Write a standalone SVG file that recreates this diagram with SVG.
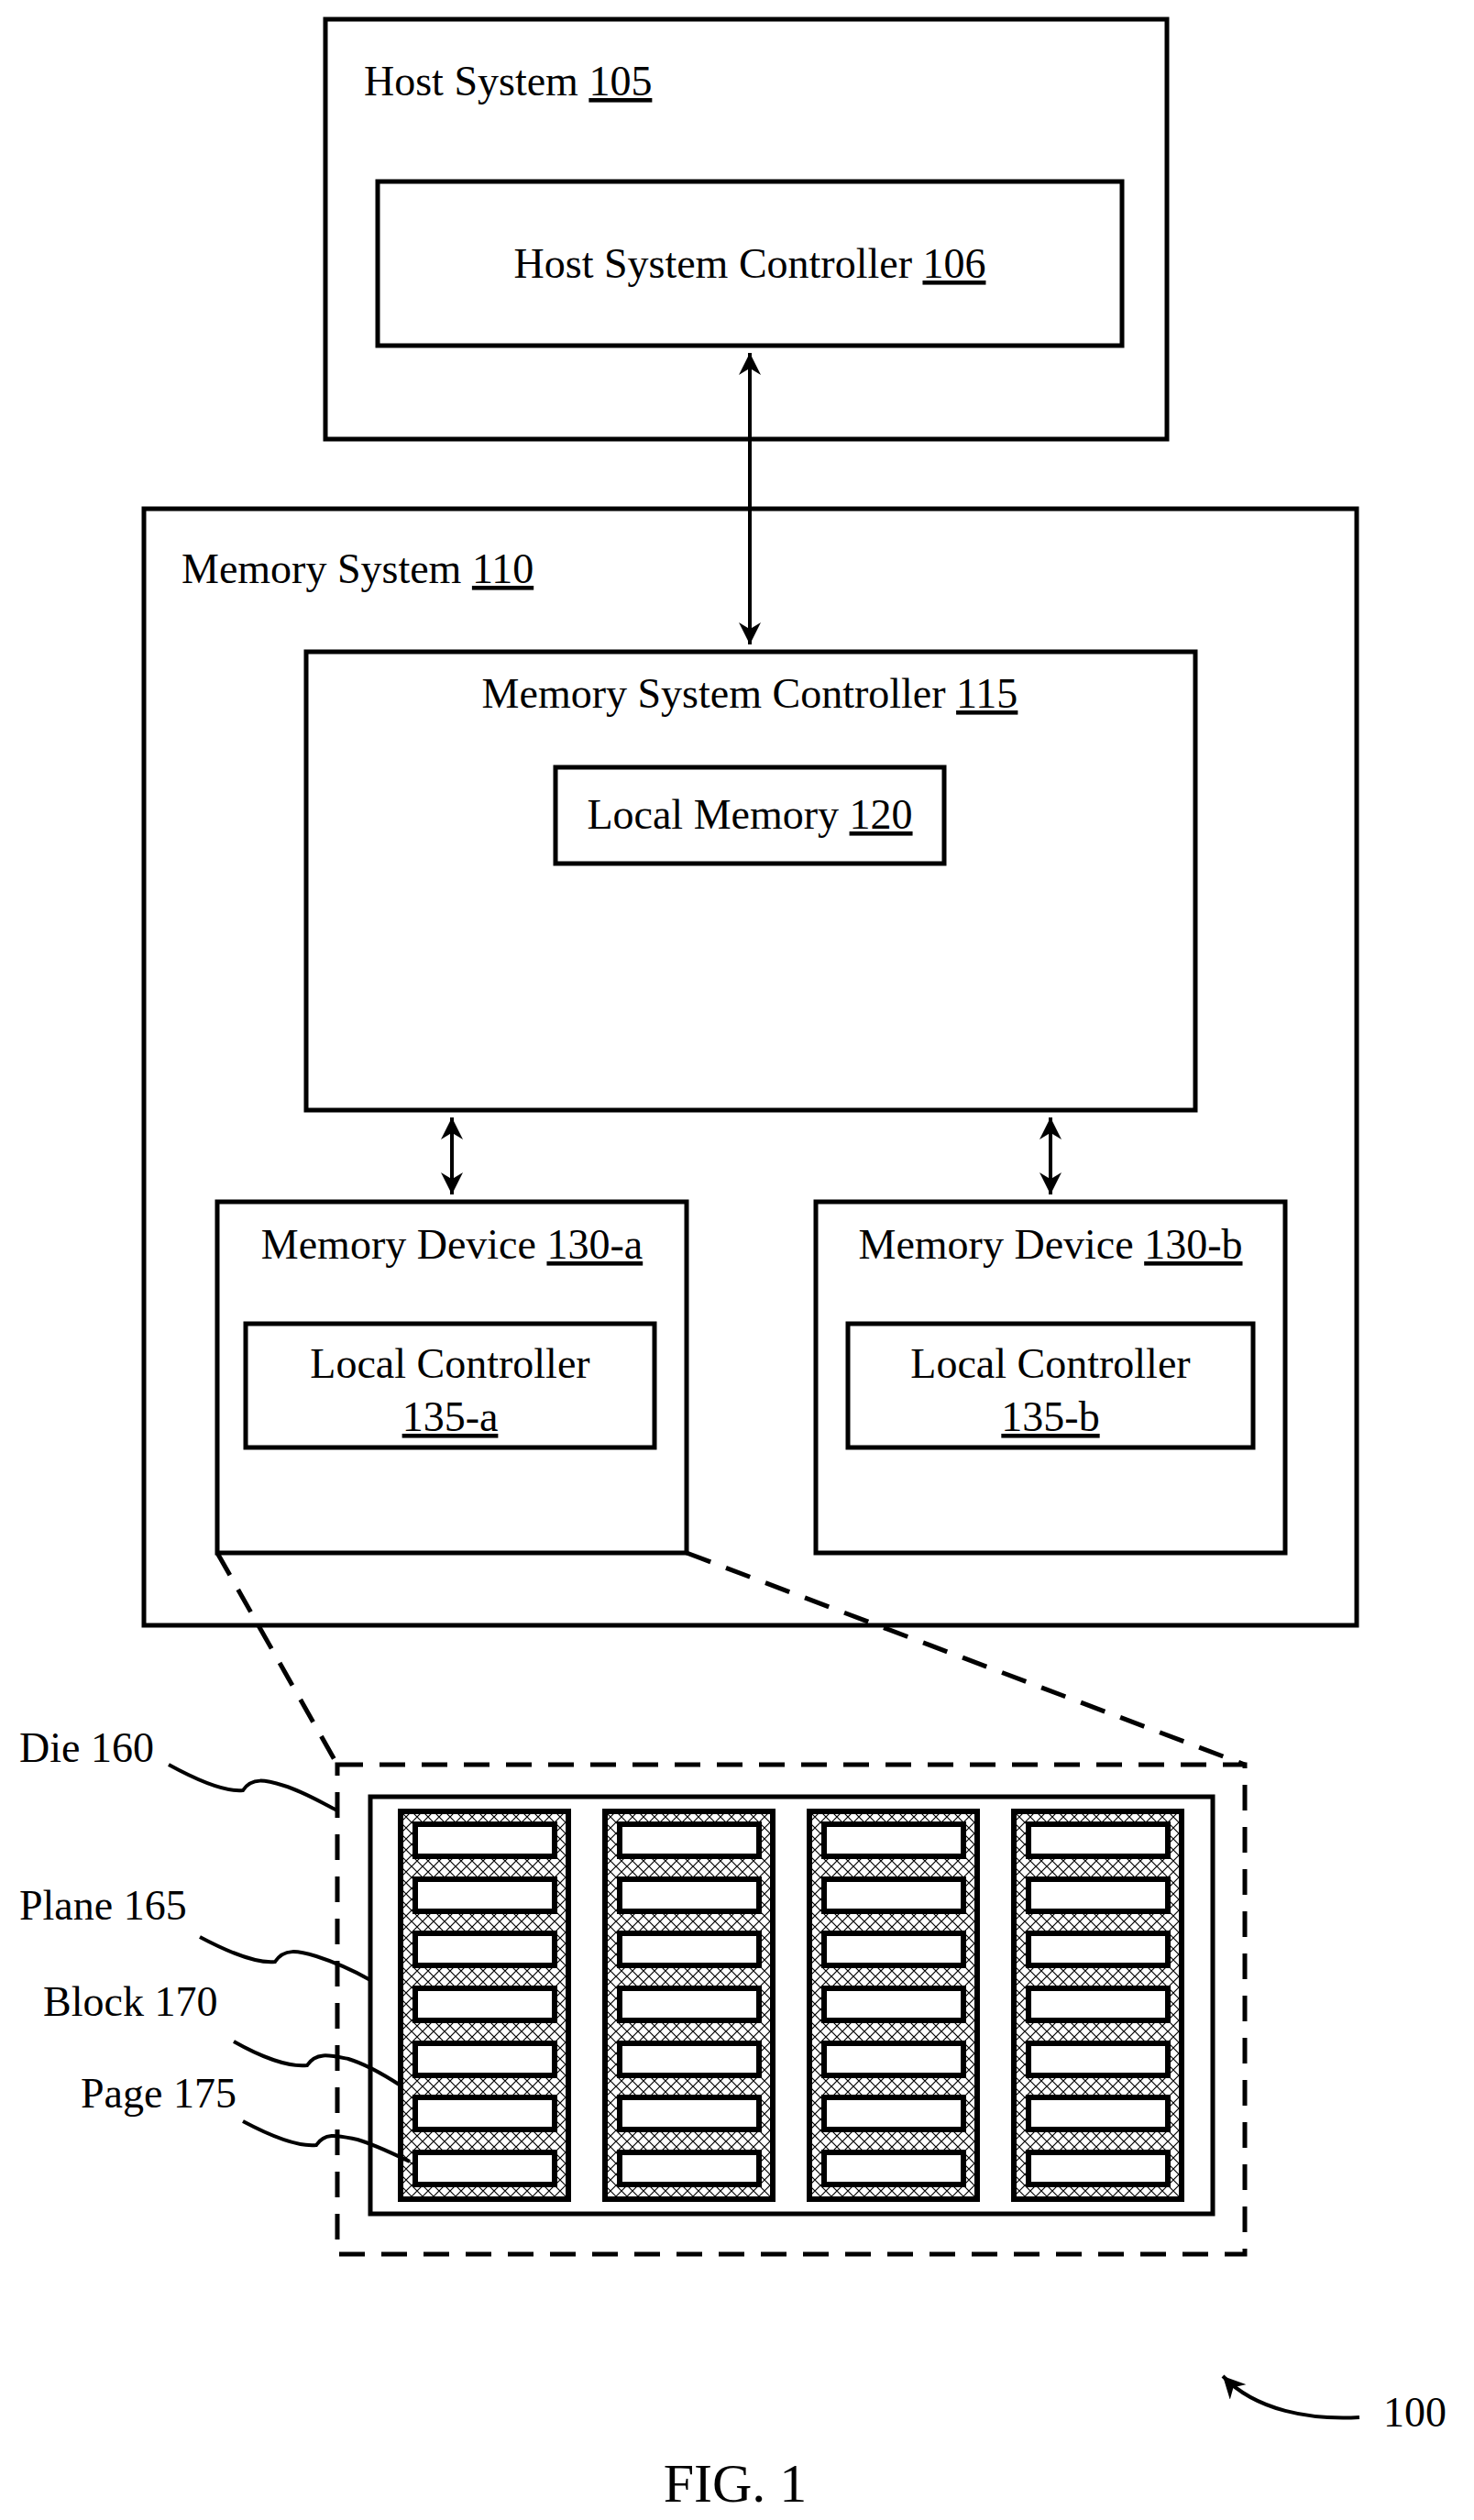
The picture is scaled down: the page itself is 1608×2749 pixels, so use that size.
<svg xmlns="http://www.w3.org/2000/svg" width="1608" height="2749" viewBox="0 0 1608 2749">
<style>
.b{fill:#fff;stroke:#000;stroke-width:5}
.t{font-family:"Liberation Serif",serif;font-size:46px;fill:#000}
.u{text-decoration:underline}
.d{fill:none;stroke:#000;stroke-width:5;stroke-dasharray:28 18}
.c{fill:none;stroke:#000;stroke-width:4}
.pg{fill:#fff;stroke:#000;stroke-width:6}
</style>
<defs>
<marker id="ah" viewBox="0 0 10 10" refX="10" refY="5" markerWidth="6" markerHeight="6" orient="auto-start-reverse"><path d="M0,0 L10,5 L0,10 L3,5 z" fill="#000"/></marker>
<pattern id="x" width="12" height="12" patternUnits="userSpaceOnUse"><rect width="12" height="12" fill="#fff"/><path d="M0,0 L12,12 M12,0 L0,12" stroke="#000" stroke-width="1.2"/></pattern>
<g id="plane"><rect x="0" y="0" width="183" height="423" fill="url(#x)" stroke="#000" stroke-width="6"/>
<rect class="pg" x="16" y="14" width="152" height="35"/><rect class="pg" x="16" y="74" width="152" height="35"/><rect class="pg" x="16" y="133" width="152" height="35"/><rect class="pg" x="16" y="193" width="152" height="35"/><rect class="pg" x="16" y="253" width="152" height="35"/><rect class="pg" x="16" y="312" width="152" height="35"/><rect class="pg" x="16" y="372" width="152" height="35"/></g>
</defs>
<rect width="1608" height="2749" fill="#fff"/>
<g id="host"><rect class="b" x="355" y="21" width="918" height="458"/><text class="t" x="397" y="104">Host System <tspan class="u">105</tspan></text></g>
<g id="hsc"><rect class="b" x="412" y="198" width="812" height="179"/><text class="t" x="818" y="303" text-anchor="middle">Host System Controller <tspan class="u">106</tspan></text></g>
<g id="memsys"><rect class="b" x="157" y="555" width="1323" height="1218"/><text class="t" x="198" y="636">Memory System <tspan class="u">110</tspan></text></g>
<g id="msc"><rect class="b" x="334" y="711" width="970" height="500"/><text class="t" x="818" y="772" text-anchor="middle">Memory System Controller <tspan class="u">115</tspan></text></g>
<g id="lm"><rect class="b" x="606" y="837" width="424" height="105"/><text class="t" x="818" y="904" text-anchor="middle">Local Memory <tspan class="u">120</tspan></text></g>
<g id="mda"><rect class="b" x="237" y="1311" width="512" height="383"/><text class="t" x="493" y="1373" text-anchor="middle">Memory Device <tspan class="u">130-a</tspan></text></g>
<g id="lca"><rect class="b" x="268" y="1444" width="446" height="135"/><text class="t" x="491" y="1503" text-anchor="middle">Local Controller</text><text class="t u" x="491" y="1561" text-anchor="middle">135-a</text></g>
<g id="mdb"><rect class="b" x="890" y="1311" width="512" height="383"/><text class="t" x="1146" y="1373" text-anchor="middle">Memory Device <tspan class="u">130-b</tspan></text></g>
<g id="lcb"><rect class="b" x="925" y="1444" width="442" height="135"/><text class="t" x="1146" y="1503" text-anchor="middle">Local Controller</text><text class="t u" x="1146" y="1561" text-anchor="middle">135-b</text></g>
<g id="die"><rect class="d" x="368" y="1925" width="990" height="534"/><rect fill="#fff" stroke="#000" stroke-width="5" x="404" y="1960" width="919" height="455"/>
<use href="#plane" x="437" y="1976"/><use href="#plane" x="660" y="1976"/><use href="#plane" x="883" y="1976"/><use href="#plane" x="1106" y="1976"/></g>
<g id="labels">
<text class="t" x="21" y="1922">Die 160</text>
<text class="t" x="21" y="2094">Plane 165</text>
<text class="t" x="47" y="2199">Block 170</text>
<text class="t" x="88" y="2299">Page 175</text>
<text x="802" y="2729" text-anchor="middle" font-family="Liberation Serif,serif" font-size="60">FIG. 1</text>
<text class="t" x="1509" y="2647">100</text>
</g>
<g id="connectors">
<line x1="818" y1="385" x2="818" y2="703" stroke="#000" stroke-width="4" marker-start="url(#ah)" marker-end="url(#ah)"/>
<line x1="493" y1="1219" x2="493" y2="1303" stroke="#000" stroke-width="4" marker-start="url(#ah)" marker-end="url(#ah)"/>
<line x1="1146" y1="1219" x2="1146" y2="1303" stroke="#000" stroke-width="4" marker-start="url(#ah)" marker-end="url(#ah)"/>
<path class="d" d="M237,1694 L368,1925 M749,1694 L1358,1925"/>
<path class="c" d="M184,1925 C215,1942 245,1955 265,1953 C275,1938 290,1942 310,1948 C330,1954 350,1966 368,1975"/>
<path class="c" d="M218,2113 C250,2130 280,2142 300,2140 C310,2125 325,2128 345,2134 C370,2142 390,2152 404,2160"/>
<path class="c" d="M255,2227 C285,2244 315,2255 335,2253 C345,2238 360,2242 380,2246 C400,2252 420,2264 437,2275"/>
<path class="c" d="M265,2314 C295,2330 325,2342 345,2340 C355,2325 370,2330 390,2334 C410,2340 430,2350 447,2358"/>
<path class="c" d="M1483,2637 C1430,2640 1370,2630 1334,2592" marker-end="url(#ah)"/>
</g>
</svg>
